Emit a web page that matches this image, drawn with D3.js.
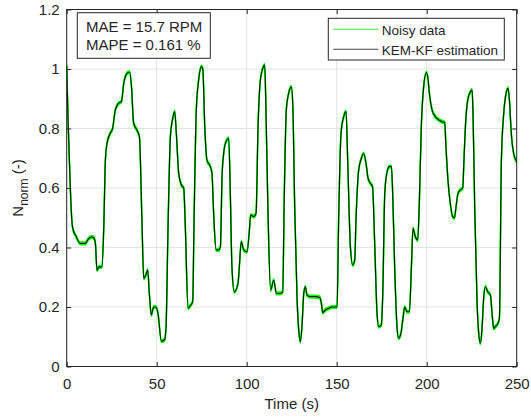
<!DOCTYPE html>
<html><head><meta charset="utf-8">
<script src="https://cdn.jsdelivr.net/npm/d3@7"></script>
<style>
body{margin:0;background:#fff}
text{font-family:Arial,"Liberation Sans",Helvetica,sans-serif;fill:#262626}
</style>
</head><body>
<svg id="c" width="531" height="418"></svg>
<script>
const xTicks = [0, 50, 100, 150, 200, 250];
const yTicks = [0, 0.2, 0.4, 0.6, 0.8, 1, 1.2];
const seriesNames = ["Noisy data", "KEM-KF estimation"];
const statLines = ["MAE = 15.7 RPM", "MAPE = 0.161 %"];

const time = [0,0.8,2.0,3.0,3.8,5.0,7.5,10.3,12.2,14.0,15.3,16.0,16.8,18.0,19.6,20.6,21.5,22.4,24.2,25.5,27.0,28.9,30.4,31.7,33.5,35.0,36.0,37.2,39.0,40.4,41.8,42.8,44.1,45.0,45.9,47.0,48.3,49.6,50.7,52.6,54.4,55.2,56.3,57.6,58.9,60.0,60.9,62.2,63.7,65.0,65.9,67.4,68.7,70.0,70.7,72.0,73.3,74.8,75.6,76.7,77.9,79.8,80.7,81.7,83.0,84.4,85.4,86.3,87.2,88.5,90.0,90.9,91.8,93.1,95.2,95.9,97.0,98.3,100.2,101.5,102.2,103.9,105.2,106.3,107.6,108.9,110.0,110.7,111.8,113.3,115.0,116.5,118.7,120.0,120.9,122.0,123.3,124.8,125.6,126.7,128.0,128.9,129.8,130.7,131.7,132.6,133.5,135.4,138.1,140.4,141.5,142.2,143.7,145.6,147.4,150.2,151.1,152.4,153.9,155.2,156.1,157.6,158.9,160.0,160.7,162.2,163.7,164.9,166.3,167.4,168.7,169.9,171.1,172.4,173.3,174.8,175.6,176.7,178.0,179.3,180.4,181.1,182.2,183.5,184.4,185.7,186.7,187.8,189.1,190.4,191.5,192.4,193.7,195.0,195.9,197.0,198.3,199.8,200.7,201.5,203.0,204.8,206.7,208.5,210.0,210.7,211.8,213.1,214.4,215.4,216.3,217.4,218.7,220.0,220.7,221.5,222.8,224.3,225.2,225.7,226.7,228.0,228.9,229.8,230.7,231.7,232.6,233.9,235.4,236.3,237.2,238.1,239.6,240.4,241.5,242.8,244.1,245.2,245.9,247.0,248.3,250.0];
const estimate = [1.01,0.82,0.60,0.48,0.455,0.44,0.414,0.414,0.43,0.436,0.43,0.41,0.324,0.335,0.335,0.47,0.694,0.75,0.784,0.80,0.862,0.885,0.89,0.952,0.985,0.99,0.94,0.817,0.795,0.772,0.49,0.296,0.31,0.324,0.246,0.173,0.2,0.2,0.179,0.085,0.09,0.134,0.47,0.772,0.834,0.857,0.784,0.65,0.61,0.6,0.47,0.196,0.205,0.218,0.47,0.862,0.963,1.008,1.0,0.806,0.694,0.672,0.65,0.504,0.392,0.392,0.403,0.638,0.716,0.756,0.767,0.582,0.335,0.251,0.28,0.335,0.42,0.392,0.386,0.459,0.509,0.504,0.515,0.806,0.963,1.002,1.013,0.862,0.526,0.257,0.29,0.246,0.246,0.25,0.582,0.862,0.918,0.94,0.88,0.526,0.224,0.123,0.083,0.134,0.246,0.268,0.24,0.235,0.235,0.233,0.212,0.181,0.19,0.196,0.2,0.2,0.5,0.784,0.84,0.857,0.694,0.403,0.341,0.358,0.49,0.66,0.7,0.716,0.683,0.633,0.616,0.605,0.414,0.179,0.134,0.14,0.246,0.582,0.655,0.672,0.672,0.582,0.335,0.134,0.095,0.112,0.156,0.2,0.184,0.184,0.335,0.464,0.436,0.425,0.549,0.806,0.94,0.988,0.968,0.918,0.862,0.84,0.829,0.823,0.82,0.739,0.627,0.549,0.504,0.5,0.537,0.582,0.593,0.6,0.694,0.806,0.896,0.924,0.929,0.86,0.526,0.212,0.112,0.078,0.123,0.235,0.268,0.251,0.24,0.179,0.128,0.134,0.145,0.163,0.694,0.851,0.918,0.935,0.9,0.784,0.716,0.688];
// The noisy measurement follows the estimate; its noise is shown as a thin band.
const noisy = estimate;

const L = 66.7, R = 516.7, T = 9.5, B = 366.5;
const svg = d3.select("#c");
const x = d3.scaleLinear().domain([0, 250]).range([L, R]);
const y = d3.scaleLinear().domain([0, 1.2]).range([B, T]);
const axisCol = "#262626";
const fs = 15;

// grid
const g = svg.append("g");
g.selectAll("line.gx").data(xTicks).join("line")
  .attr("x1", d => x(d)).attr("x2", d => x(d)).attr("y1", T).attr("y2", B)
  .attr("stroke", "#e3e3e3").attr("stroke-width", 1);
g.selectAll("line.gy").data(yTicks).join("line")
  .attr("y1", d => y(d)).attr("y2", d => y(d)).attr("x1", L).attr("x2", R)
  .attr("stroke", "#e3e3e3").attr("stroke-width", 1);

// lines
svg.append("clipPath").attr("id", "clip").append("rect")
  .attr("x", L).attr("y", T - 2).attr("width", R - L).attr("height", B - T + 2);
const pts = time.map((t, i) => ({t, v: estimate[i], n: noisy[i]}));
const lineN = d3.line().x(d => x(d.t)).y(d => y(d.n)).curve(d3.curveMonotoneX);
const lineE = d3.line().x(d => x(d.t)).y(d => y(d.v)).curve(d3.curveMonotoneX);
const plot = svg.append("g").attr("clip-path", "url(#clip)");
[-1.4, 0, 1.4].forEach(off => {
  plot.append("path").attr("d", lineN(pts)).attr("fill", "none")
    .attr("stroke", "#00ff00").attr("stroke-width", 1.4)
    .attr("transform", `translate(0,${off})`);
});
plot.append("path").attr("d", lineE(pts)).attr("fill", "none")
  .attr("stroke", "#111").attr("stroke-width", 1.1);

// axes (ticks inward on all sides)
const tk = 4.5;
const ax = svg.append("g");
ax.append("g").attr("transform", `translate(0,${B})`)
  .call(d3.axisBottom(x).tickValues(xTicks).tickSize(-tk).tickPadding(12).tickFormat(d3.format("d")))
  .call(s => { s.select(".domain").remove(); s.selectAll("text").attr("font-size", fs).attr("fill", axisCol).attr("font-family", null); s.selectAll("line").attr("stroke", axisCol); });
ax.append("g").attr("transform", `translate(0,${T})`)
  .call(d3.axisTop(x).tickValues(xTicks).tickSize(-tk).tickFormat(""))
  .call(s => { s.select(".domain").remove(); s.selectAll("line").attr("stroke", axisCol); });
ax.append("g").attr("transform", `translate(${L},0)`)
  .call(d3.axisLeft(y).tickValues(yTicks).tickSize(-tk).tickPadding(7).tickFormat(d => d3.format("~g")(d)))
  .call(s => { s.select(".domain").remove(); s.selectAll("text").attr("font-size", fs).attr("fill", axisCol).attr("font-family", null); s.selectAll("line").attr("stroke", axisCol); });
ax.append("g").attr("transform", `translate(${R},0)`)
  .call(d3.axisRight(y).tickValues(yTicks).tickSize(-tk).tickFormat(""))
  .call(s => { s.select(".domain").remove(); s.selectAll("line").attr("stroke", axisCol); });
svg.append("rect").attr("x", L).attr("y", T).attr("width", R - L).attr("height", B - T)
  .attr("fill", "none").attr("stroke", axisCol).attr("stroke-width", 1);

// axis labels
svg.append("text").attr("x", (L + R) / 2).attr("y", 409).attr("text-anchor", "middle")
  .attr("font-size", fs).text("Time (s)");
const yl = svg.append("text").attr("transform", `translate(23.3,${(T + B) / 2}) rotate(-90)`)
  .attr("text-anchor", "middle").attr("font-size", fs);
yl.append("tspan").text("N");
yl.append("tspan").attr("dy", 5).attr("font-size", 12).text("norm");
yl.append("tspan").attr("dy", -5).text(" (-)");

// stats box
svg.append("rect").attr("x", 77.3).attr("y", 12.7).attr("width", 133).attr("height", 45.6)
  .attr("fill", "#fff").attr("stroke", axisCol).attr("stroke-width", 1);
statLines.forEach((s, i) => {
  svg.append("text").attr("x", 86).attr("y", 31.7 + i * 18.5).attr("font-size", fs).text(s);
});

// legend
svg.append("rect").attr("x", 328.3).attr("y", 18.3).attr("width", 176).attr("height", 41.7)
  .attr("fill", "#fff").attr("stroke", axisCol).attr("stroke-width", 1);
const legCols = ["#33ee33", "#444"];
seriesNames.forEach((n, i) => {
  const ly = 29.3 + i * 20;
  svg.append("line").attr("x1", 333.3).attr("x2", 378.3).attr("y1", ly).attr("y2", ly)
    .attr("stroke", legCols[i]).attr("stroke-width", 1.1);
  svg.append("text").attr("x", 381.7).attr("y", ly + 5.5).attr("font-size", 13.5).text(n);
});
</script>
</body></html>
